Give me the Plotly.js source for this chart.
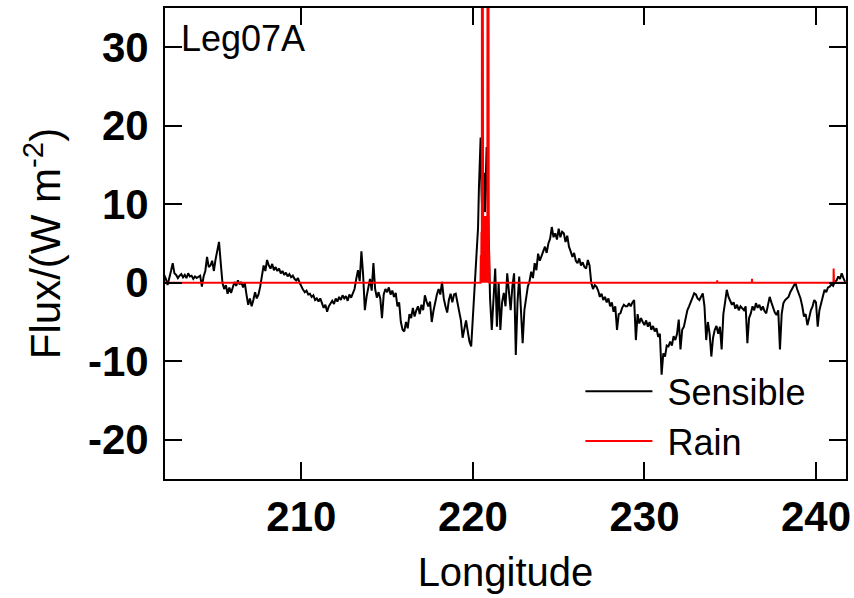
<!DOCTYPE html>
<html>
<head>
<meta charset="utf-8">
<script src="https://cdn.plot.ly/plotly-3.0.1.min.js"></script>
<style>html,body{margin:0;padding:0;background:#fff;}#chart{width:854px;height:598px;}</style>
</head>
<body>
<div id="chart"></div>
<script>
// Sensible heat flux (W m^-2) vs longitude
const sensLon = [
202.0,202.1,202.2,202.3,202.4,202.5,202.6,202.7,202.8,202.9,
203.0,203.1,203.2,203.3,203.4,203.5,203.6,203.7,203.8,203.9,
204.0,204.1,204.2,204.3,204.4,204.5,204.6,204.7,204.8,204.9,
205.0,205.1,205.2,205.3,205.4,205.5,205.6,205.7,205.8,205.9,
206.0,206.1,206.2,206.3,206.4,206.5,206.6,206.7,206.8,206.9,
207.0,207.1,207.2,207.3,207.4,207.5,207.6,207.7,207.8,207.9,
208.0,208.1,208.2,208.3,208.4,208.5,208.6,208.7,208.8,208.9,
209.0,209.1,209.2,209.3,209.4,209.5,209.6,209.7,209.8,209.9,
210.0,210.1,210.2,210.3,210.4,210.5,210.6,210.7,210.8,210.9,
211.0,211.1,211.2,211.3,211.4,211.5,211.6,211.7,211.8,211.9,
212.0,212.1,212.2,212.3,212.4,212.5,212.6,212.7,212.8,212.9,
213.0,213.1,213.2,213.3,213.4,213.5,213.6,213.7,213.8,213.9,
214.0,214.1,214.2,214.3,214.4,214.5,214.6,214.7,214.8,214.9,
215.0,215.1,215.2,215.3,215.4,215.5,215.6,215.7,215.8,215.9,
216.0,216.1,216.2,216.3,216.4,216.5,216.6,216.7,216.8,216.9,
217.0,217.1,217.2,217.3,217.4,217.5,217.6,217.7,217.8,217.9,
218.0,218.1,218.2,218.3,218.4,218.5,218.6,218.7,218.8,218.9,
219.0,219.1,219.2,219.3,219.4,219.5,219.6,219.7,219.8,219.9,
220.0,220.1,220.2,220.3,220.35,220.4,220.45,220.5,220.55,220.6,220.65,220.7,220.75,220.8,220.85,220.9,220.95,
221.0,221.1,221.2,221.3,221.4,221.5,221.6,221.7,221.8,221.9,
222.0,222.1,222.2,222.3,222.4,222.5,222.6,222.7,222.8,222.9,
223.0,223.1,223.2,223.3,223.4,223.5,223.6,223.7,223.8,223.9,
224.0,224.1,224.2,224.3,224.4,224.5,224.6,224.7,224.8,224.9,
225.0,225.1,225.2,225.3,225.4,225.5,225.6,225.7,225.8,225.9,
226.0,226.1,226.2,226.3,226.4,226.5,226.6,226.7,226.8,226.9,
227.0,227.1,227.2,227.3,227.4,227.5,227.6,227.7,227.8,227.9,
228.0,228.1,228.2,228.3,228.4,228.5,228.6,228.7,228.8,228.9,
229.0,229.1,229.2,229.3,229.4,229.5,229.6,229.7,229.8,229.9,
230.0,230.1,230.2,230.3,230.4,230.5,230.6,230.7,230.8,230.9,
231.0,231.1,231.2,231.3,231.4,231.5,231.6,231.7,231.8,231.9,
232.0,232.1,232.2,232.3,232.4,232.5,232.6,232.7,232.8,232.9,
233.0,233.1,233.2,233.3,233.4,233.5,233.6,233.7,233.8,233.9,
234.0,234.1,234.2,234.3,234.4,234.5,234.6,234.7,234.8,234.9,
235.0,235.1,235.2,235.3,235.4,235.5,235.6,235.7,235.8,235.9,
236.0,236.1,236.2,236.3,236.4,236.5,236.6,236.7,236.8,236.9,
237.0,237.1,237.2,237.3,237.4,237.5,237.6,237.7,237.8,237.9,
238.0,238.1,238.2,238.3,238.4,238.5,238.6,238.7,238.8,238.9,
239.0,239.1,239.2,239.3,239.4,239.5,239.6,239.7,239.8,239.9,
240.0,240.1,240.2,240.3,240.4,240.5,240.6,240.7,240.8,240.9,
241.0,241.1,241.2,241.3,241.4,241.5,241.6,241.7
];
const sensFlux = [
1.0,0.5,-0.3,0.8,1.5,2.5,1.2,1.0,0.6,0.9,
1.1,0.7,1.0,0.6,1.2,0.8,0.9,0.5,0.8,0.6,
0.7,0.9,-0.5,0.8,1.5,3.3,2.0,2.2,2.8,1.5,
3.0,4.0,5.2,2.5,0.0,-0.8,-0.3,-1.4,-0.6,-1.3,
-0.5,0.1,-0.4,0.3,-0.2,0.1,-0.6,0.0,-1.5,-2.8,
-2.0,-3.0,-2.2,-1.2,-2.0,-1.5,-0.5,0.8,2.2,1.5,
2.9,2.2,1.8,2.4,1.6,2.0,1.5,1.8,1.2,1.5,
1.0,1.3,0.8,1.1,0.7,0.9,0.5,0.3,0.6,0.0,
-0.5,-0.9,-1.2,-1.0,-1.5,-1.4,-1.8,-1.6,-2.2,-2.0,
-2.4,-2.0,-2.6,-3.2,-2.8,-3.7,-3.0,-2.6,-2.3,-2.7,
-2.0,-2.4,-1.8,-2.2,-1.6,-2.0,-1.7,-2.3,-1.5,-1.9,
-1.4,-0.8,0.5,1.6,0.2,4.0,1.0,-3.5,-1.8,-0.5,
0.5,-1.0,2.5,-0.8,-1.9,-1.2,-2.0,-4.5,-1.5,-0.8,
-1.2,-0.6,-1.5,-1.0,-1.8,-1.3,-3.0,-2.5,-5.0,-6.0,
-6.2,-5.0,-5.8,-4.0,-4.5,-3.2,-4.3,-3.5,-3.0,-4.0,
-2.8,-3.5,-1.6,-2.4,-3.0,-2.4,-5.0,-3.6,-2.5,-1.5,
-0.8,-1.5,0.1,-2.0,-3.0,-3.8,-2.2,-1.4,-2.5,-1.5,
-1.4,-2.5,-3.5,-4.8,-7.0,-5.6,-4.8,-6.2,-7.5,-8.1,
-4.3,0.3,3.0,7.0,12.0,16.0,18.5,12.0,8.5,12.0,14.0,9.0,15.6,17.3,12.0,8.3,2.0,
-2.0,-6.0,-2.5,1.8,-5.6,0.0,-6.0,-2.5,-1.3,-3.0,
1.2,-1.5,-3.5,-0.5,1.2,-9.2,-2.5,0.8,-3.0,-7.7,
-3.5,-1.8,-0.5,0.2,1.4,0.6,2.5,1.6,3.7,2.8,
3.4,4.2,4.6,3.8,5.0,5.6,7.1,5.8,6.3,5.5,
6.9,5.8,6.5,6.3,5.2,6.0,4.6,4.0,3.3,3.8,
2.8,2.5,3.1,2.2,2.6,2.0,1.8,2.9,2.2,0.0,
-0.8,-0.3,-0.5,-1.0,-1.8,-1.4,-2.2,-1.8,-2.5,-2.0,
-3.0,-2.5,-3.7,-3.0,-6.0,-4.0,-3.9,-3.2,-2.8,-3.0,
-3.0,-2.6,-3.0,-2.5,-2.2,-7.3,-4.0,-5.2,-4.5,-5.0,
-5.4,-4.8,-5.6,-5.0,-6.0,-5.5,-6.2,-5.8,-6.9,-6.5,
-11.7,-9.0,-9.4,-8.0,-8.1,-7.5,-8.0,-6.8,-7.3,-6.5,
-4.7,-8.5,-6.0,-5.6,-4.5,-3.5,-3.0,-2.5,-2.0,-1.35,
-1.5,-2.0,-2.2,-1.8,-1.35,-3.0,-7.3,-5.0,-6.5,-9.4,
-7.0,-6.0,-5.5,-6.5,-5.6,-8.5,-4.0,-2.5,-0.9,-1.8,
-2.2,-2.8,-2.5,-3.3,-2.8,-3.5,-3.0,-3.2,-3.5,-3.0,
-7.7,-4.5,-3.9,-3.0,-3.5,-2.6,-3.2,-2.8,-3.5,-3.0,
-3.6,-3.9,-3.0,-1.8,-2.5,-3.2,-3.8,-4.1,-3.5,-8.5,
-4.0,-2.6,-2.2,-2.0,-1.8,-1.2,-0.8,-0.4,0.0,-0.8,
-1.35,-2.0,-3.0,-4.3,-4.0,-5.4,-4.5,-3.5,-3.0,-2.2,
-2.5,-5.6,-3.5,-2.6,-1.5,-0.9,-1.2,-0.6,-0.5,-0.2,
-0.4,0.1,0.3,0.8,0.5,1.2,0.6,0.1
];
// Rain heat flux (W m^-2)
const rainLon = [202.0,220.44,220.46,220.48,220.50,220.52,220.53,220.55,220.56,220.58,220.60,220.62,220.64,220.66,220.68,220.70,220.72,220.74,220.76,220.78,220.80,220.82,220.84,220.86,220.88,220.89,220.91,220.93,220.95,220.97,234.23,234.24,234.25,236.26,236.27,236.28,241.02,241.03,241.05,241.75];
const rainFlux = [0,0,3.5,0,6.5,0,90,90,0,8,0,8.5,0,8,0,8.5,0,8,0,8.5,0,8,0,90,90,0,7,0,4,0,0,0.3,0,0,0.5,0,0,1.8,0,0];

const xTicks = [210,220,230,240];
const yTicks = [-20,-10,0,10,20,30];
const yTickText = ['-20','-10','0','10','20','30'];
const seriesNames = ['\u00A0Sensible','\u00A0Rain'];
const legName = 'Leg07A';

const FONT = 'Liberation Sans, Arial, Helvetica, sans-serif';

const traces = [
  {x: sensLon, y: sensFlux, type: 'scatter', mode: 'lines', name: seriesNames[0],
   line: {color: '#000000', width: 2}},
  {x: rainLon, y: rainFlux, type: 'scatter', mode: 'lines', name: seriesNames[1],
   line: {color: '#ff0000', width: 2}}
];

const axisCommon = {
  showline: true, linecolor: '#000', linewidth: 2, mirror: 'ticks',
  ticks: 'inside', ticklen: 17, tickwidth: 2, tickcolor: '#000',
  showgrid: false, zeroline: false,
  tickfont: {family: FONT, size: 42, color: '#000', weight: 'bold'}
};

const layout = {
  width: 854, height: 598,
  margin: {l: 165, r: 8, t: 8, b: 119},
  paper_bgcolor: '#fff', plot_bgcolor: '#fff',
  showlegend: true,
  legend: {x: 0.61, y: 0.25, xanchor: 'left', yanchor: 'top',
           bgcolor: 'rgba(0,0,0,0)', borderwidth: 0, itemwidth: 67,
           font: {family: FONT, size: 36, color: '#000'}, tracegroupgap: 0},
  xaxis: Object.assign({}, axisCommon, {
    range: [202.05, 241.75], tickmode: 'array', tickvals: xTicks,
    ticklabelstandoff: 0,
    title: {text: 'Longitude', font: {family: FONT, size: 40, color: '#000'}, standoff: 19}
  }),
  yaxis: Object.assign({}, axisCommon, {
    range: [-25, 35], tickmode: 'array', tickvals: yTicks, ticktext: yTickText,
    ticklabelstandoff: 6,
    title: {text: 'Flux/(W m<sup>-2</sup>)', font: {family: FONT, size: 42, color: '#000'}, standoff: 14}
  }),
  annotations: [{
    text: legName, xref: 'paper', yref: 'paper', x: 0.02, y: 0.982,
    xanchor: 'left', yanchor: 'top', showarrow: false,
    font: {family: FONT, size: 36, color: '#000'}
  }]
};

Plotly.newPlot('chart', traces, layout, {displayModeBar: false, staticPlot: true});
</script>
</body>
</html>
